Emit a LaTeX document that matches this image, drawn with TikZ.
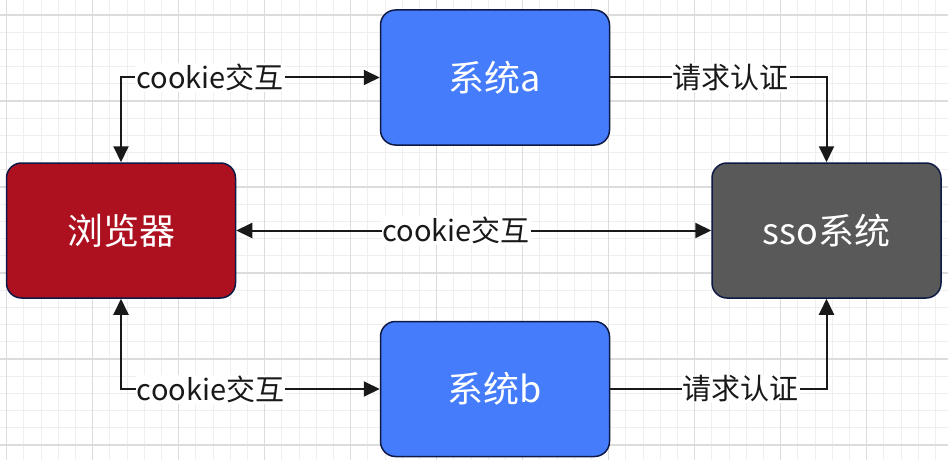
\documentclass[tikz,border=0pt]{standalone}
\usepackage{fontspec}
\setmainfont{Noto Sans CJK SC}
\usepackage{xcolor}
\usetikzlibrary{positioning,arrows.meta}

\definecolor{sysblue}{HTML}{447CFC}
\definecolor{browserred}{HTML}{AD1120}
\definecolor{ssogray}{HTML}{595959}
\definecolor{boxline}{HTML}{0E1A45}
\definecolor{gridminor}{HTML}{EFEFEF}
\definecolor{gridmajor}{HTML}{DCDCDC}

\begin{document}
\begin{tikzpicture}[x=1pt, y=-1pt, >={Triangle[width=15pt,length=16pt]},
  sysbox/.style={draw=boxline, line width=1.5pt, rounded corners=15pt, text=white,
    minimum width=229pt, minimum height=135pt, font=\fontsize{36}{40}\selectfont},
  lbl/.style={fill=white, inner sep=1pt, text=black!90, font=\fontsize{29}{32}\selectfont},
  link/.style={line width=2pt, draw=black!90}]
\useasboundingbox (0,0) rectangle (948,460);
% grid
\begin{scope}
  \clip (0,0) rectangle (948,460);
  \foreach \k in {-1,...,55}{
    \draw[gridminor, line width=1pt] ({6.7+17.2*\k},0) -- ({6.7+17.2*\k},460);
    \draw[gridminor, line width=1pt] (0,{15+17.2*\k}) -- (948,{15+17.2*\k}); }
  \foreach \k in {0,...,11}{
    \draw[gridmajor, line width=1.3pt] ({6.7+86*\k},0) -- ({6.7+86*\k},460);
    \draw[gridmajor, line width=1.3pt] (0,{15+86*\k}) -- (948,{15+86*\k}); }
\end{scope}
% boxes
\node[sysbox, fill=browserred] (browser) at (121,230.5) {浏览器};
\node[sysbox, fill=ssogray, right=475pt of browser] (sso) {sso系统};
\node[sysbox, fill=sysblue] (sysa) at (495,77.5) {系统a};
\node[sysbox, fill=sysblue, below=175pt of sysa] (sysb) {系统b};
% links
\draw[link, <->] (browser.north) |- node[lbl, pos=0.672] {cookie交互} (sysa.west);
\draw[link, ->] (sysa.east) -| node[lbl, pos=0.279] {请求认证} (sso.north);
\draw[link, <->] (browser.east) -- node[lbl, pos=0.463] {cookie交互} (sso.west);
\draw[link, <->] (browser.south) |- node[lbl, pos=0.673] {cookie交互} (sysb.west);
\draw[link, ->] (sysb.east) -| node[lbl, pos=0.302] {请求认证} (sso.south);
\end{tikzpicture}
\end{document}
